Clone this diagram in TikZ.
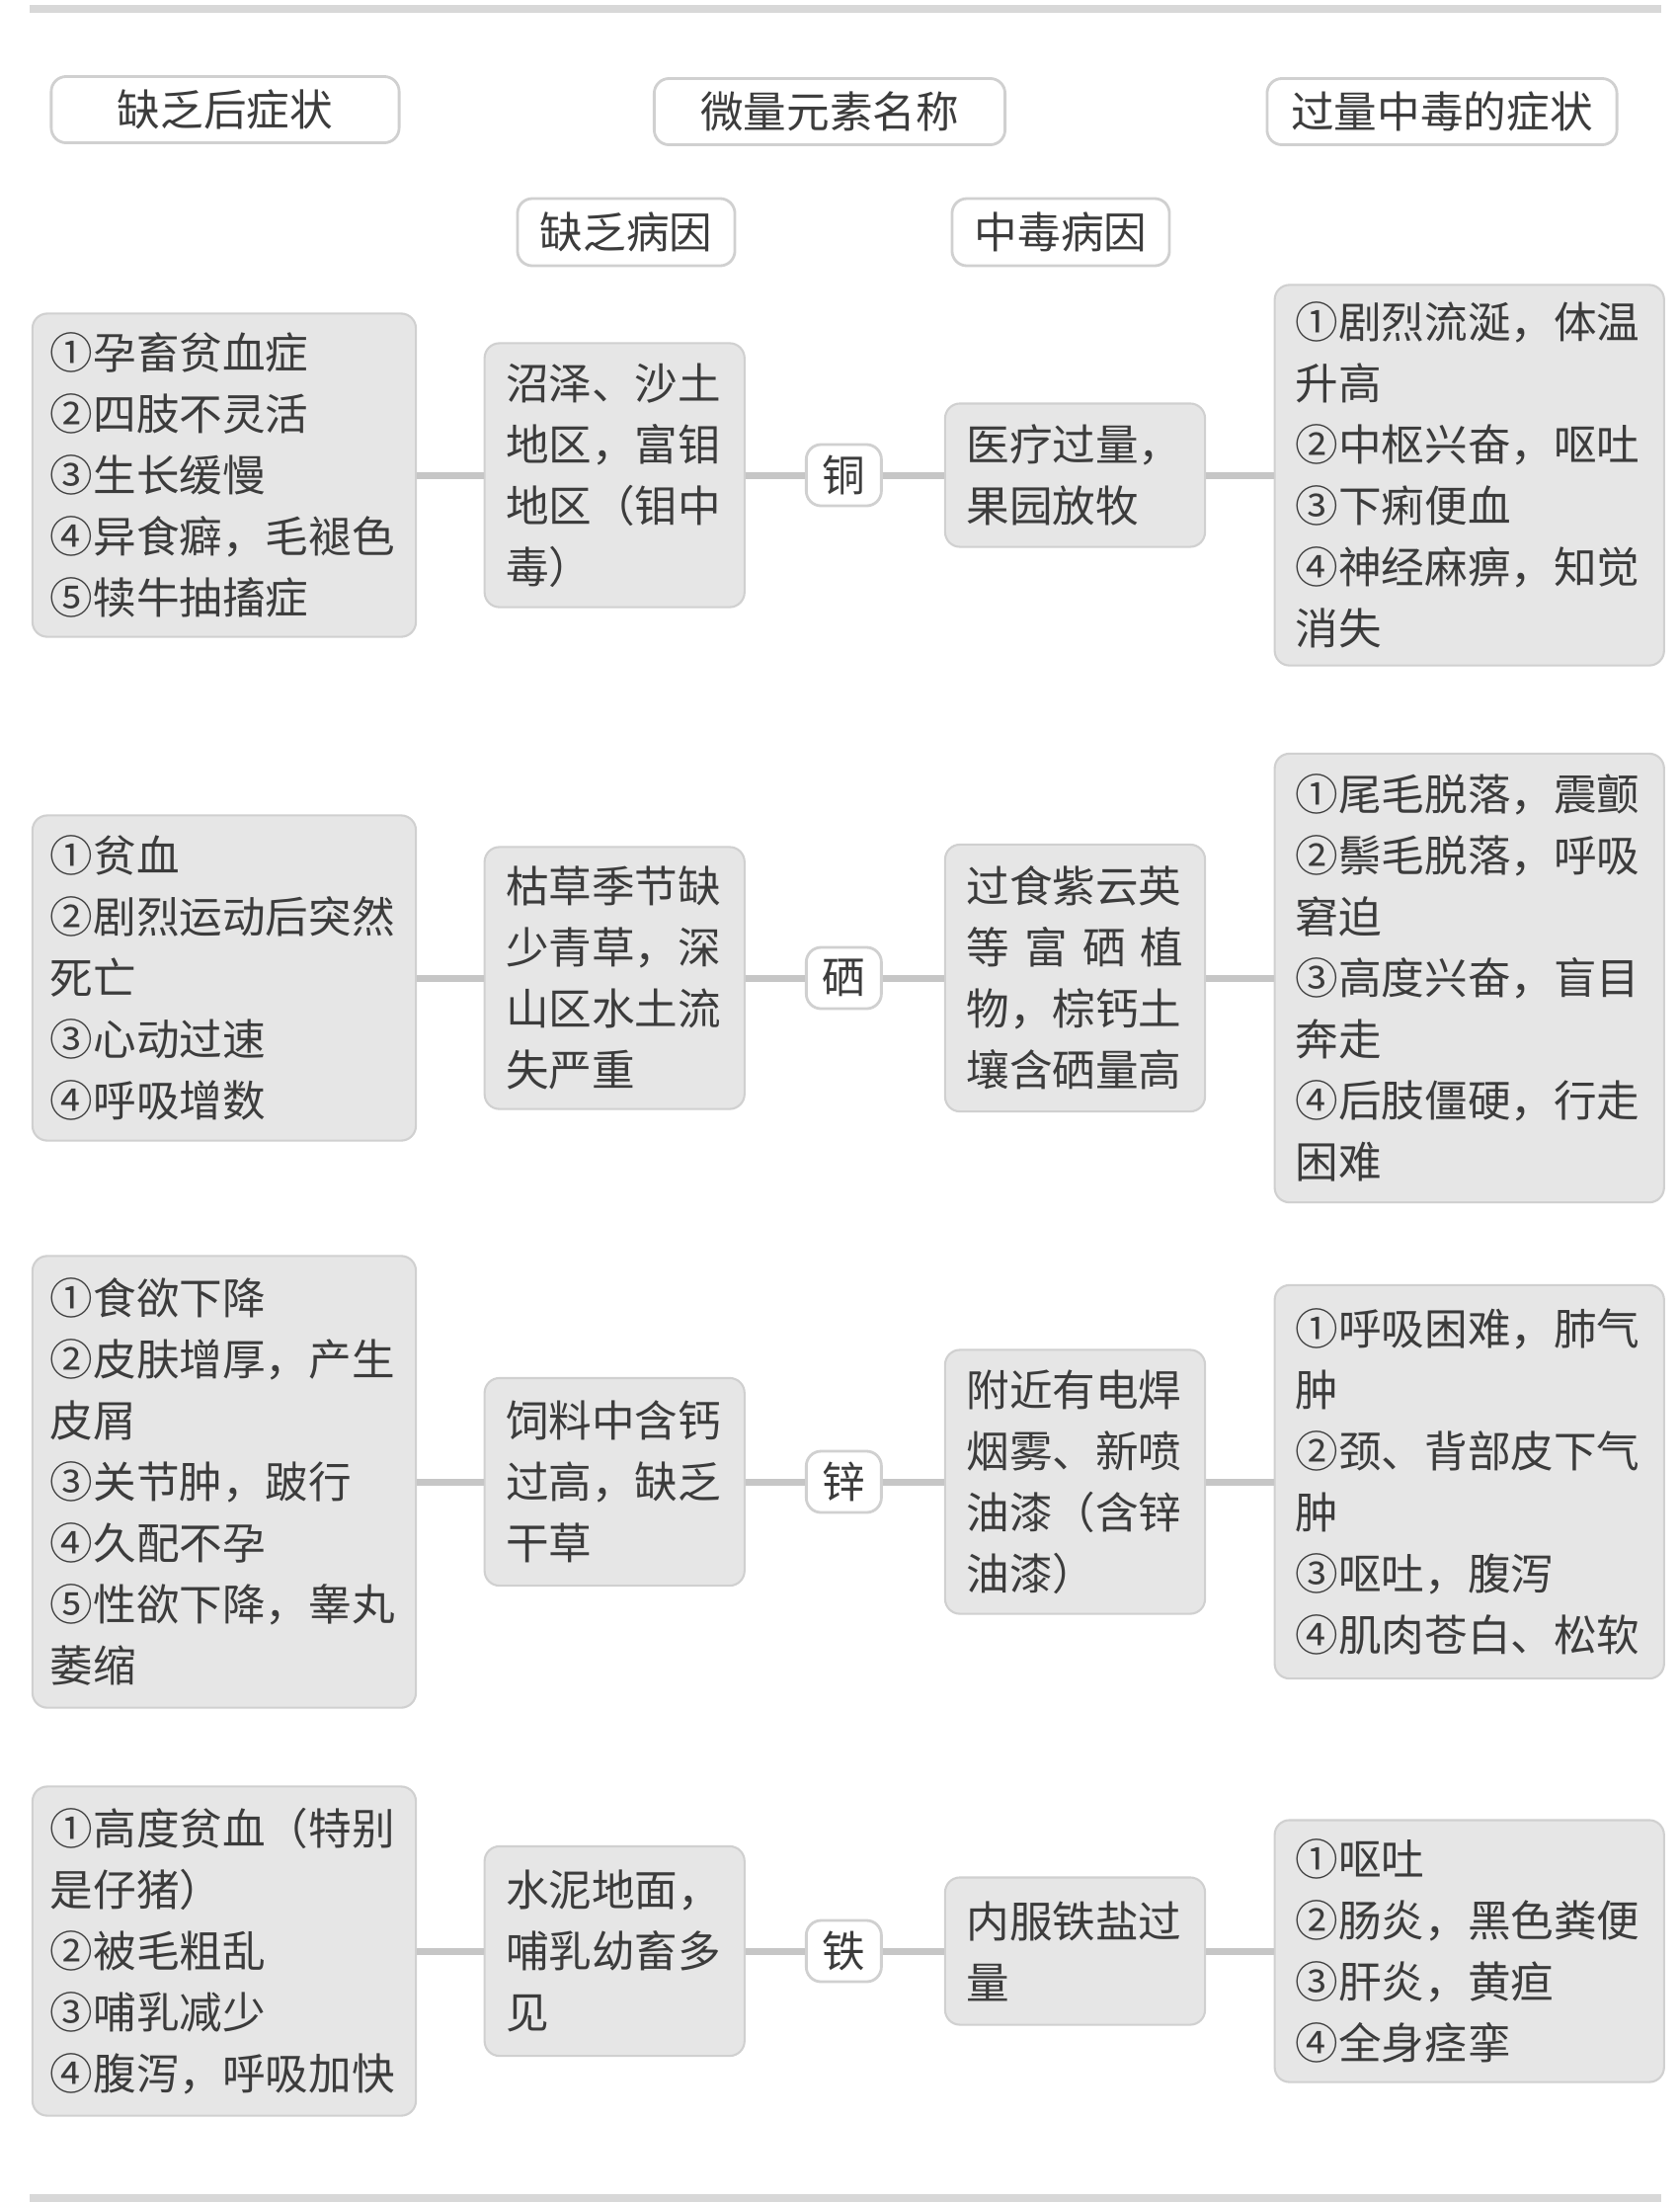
\documentclass[tikz,border=0pt]{standalone}
\usepackage{fontspec}
\setmainfont{Noto Sans CJK SC}
\usetikzlibrary{positioning}
\definecolor{boxgray}{HTML}{E6E6E6}
\definecolor{edgegray}{HTML}{D0D0D0}
\definecolor{inkgray}{HTML}{3C3C3C}
\definecolor{linkgray}{HTML}{C6C6C6}
\definecolor{bargray}{HTML}{D8D8D8}

\begin{document}
\begin{tikzpicture}[x=0.01cm,y=-0.01cm,on grid,
  every node/.style={font=\fontsize{12.4pt}{17.6pt}\selectfont,text=inkgray},
  head/.style={draw=edgegray,line width=0.8pt,fill=white,rounded corners=0.15cm,
    minimum height=0.67cm,inner sep=0pt},
  sym/.style={draw=edgegray,line width=0.6pt,fill=boxgray,rounded corners=0.15cm,
    text width=3.52cm,align=left,minimum width=3.88cm,inner sep=0pt},
  cause/.style={sym,text width=2.2cm,minimum width=2.63cm},
  elem/.style={head,minimum width=0.76cm,minimum height=0.62cm},
  link/.style={linkgray,line width=0.07cm}]
  \useasboundingbox (0,0) rectangle (1701,2229);
  \fill[bargray] (30,5) rectangle (1682,13);
  \fill[bargray] (30,2221) rectangle (1682,2229);

  % headings
  \node[head,minimum width=3.52cm] (hsym) at (228,111) {缺乏后症状};
  \node[head,minimum width=3.55cm] (hname) at (840,113) {微量元素名称};
  \node[head,minimum width=3.54cm] (htox) at (1460,113) {过量中毒的症状};
  \node[head,minimum width=2.2cm,minimum height=0.68cm] (hlack) at (634,235) {缺乏病因};
  \node[head,minimum width=2.2cm,minimum height=0.68cm] (hpois) at (1074,235) {中毒病因};

  % copper
  \node[sym,minimum height=3.27cm] (cu-lack) at (227,481)
    {①孕畜贫血症\\②四肢不灵活\\③生长缓慢\\④异食癖，毛褪色\\⑤犊牛抽搐症};
  \node[cause,minimum height=2.67cm] (cu-why) [right=3.95cm of cu-lack]
    {沼泽、沙土\\地区，富钼\\地区（钼中\\毒）};
  \node[elem] (cu) [right=2.32cm of cu-why] {铜};
  \node[cause,minimum height=1.45cm] (cu-how) [right=2.34cm of cu]
    {医疗过量，\\果园放牧};
  \node[sym,minimum width=3.94cm,minimum height=3.85cm] (cu-tox) [right=3.99cm of cu-how]
    {①剧烈流涎，体温\\升高\\②中枢兴奋，呕吐\\③下痢便血\\④神经麻痹，知觉\\消失};

  % selenium
  \node[sym,minimum height=3.29cm] (se-lack) at (227,990)
    {①贫血\\②剧烈运动后突然\\死亡\\③心动过速\\④呼吸增数};
  \node[cause,minimum height=2.65cm] (se-why) [right=3.95cm of se-lack]
    {枯草季节缺\\少青草，深\\山区水土流\\失严重};
  \node[elem] (se) [right=2.32cm of se-why] {硒};
  \node[cause,minimum height=2.70cm] (se-how) [right=2.34cm of se]
    {过食紫云英\\等\hfill 富\hfill 硒\hfill 植\\物，棕钙土\\壤含硒量高};
  \node[sym,minimum width=3.94cm,minimum height=4.54cm] (se-tox) [right=3.99cm of se-how]
    {①尾毛脱落，震颤\\②鬃毛脱落，呼吸\\窘迫\\③高度兴奋，盲目\\奔走\\④后肢僵硬，行走\\困难};

  % zinc
  \node[sym,minimum height=4.57cm] (zn-lack) at (227,1500)
    {①食欲下降\\②皮肤增厚，产生\\皮屑\\③关节肿，跛行\\④久配不孕\\⑤性欲下降，睾丸\\萎缩};
  \node[cause,minimum height=2.10cm] (zn-why) [right=3.95cm of zn-lack]
    {饲料中含钙\\过高，缺乏\\干草};
  \node[elem] (zn) [right=2.32cm of zn-why] {锌};
  \node[cause,minimum height=2.67cm] (zn-how) [right=2.34cm of zn]
    {附近有电焊\\烟雾、新喷\\油漆（含锌\\油漆）};
  \node[sym,minimum width=3.94cm,minimum height=3.98cm] (zn-tox) [right=3.99cm of zn-how]
    {①呼吸困难，肺气\\肿\\②颈、背部皮下气\\肿\\③呕吐，腹泻\\④肌肉苍白、松软};

  % iron
  \node[sym,minimum height=3.33cm] (fe-lack) at (227,1975)
    {①高度贫血（特别\\是仔猪）\\②被毛粗乱\\③哺乳减少\\④腹泻，呼吸加快};
  \node[cause,minimum height=2.12cm] (fe-why) [right=3.95cm of fe-lack]
    {水泥地面，\\哺乳幼畜多\\见};
  \node[elem] (fe) [right=2.32cm of fe-why] {铁};
  \node[cause,minimum height=1.49cm] (fe-how) [right=2.34cm of fe]
    {内服铁盐过\\量};
  \node[sym,minimum width=3.94cm,minimum height=2.65cm] (fe-tox) [right=3.99cm of fe-how]
    {①呕吐\\②肠炎，黑色粪便\\③肝炎，黄疸\\④全身痉挛};

  \path[link]
  (cu-lack) edge (cu-why) (cu-why) edge (cu) (cu) edge (cu-how) (cu-how) edge (cu-tox)
  (se-lack) edge (se-why) (se-why) edge (se) (se) edge (se-how) (se-how) edge (se-tox)
  (zn-lack) edge (zn-why) (zn-why) edge (zn) (zn) edge (zn-how) (zn-how) edge (zn-tox)
  (fe-lack) edge (fe-why) (fe-why) edge (fe) (fe) edge (fe-how) (fe-how) edge (fe-tox)
  ;
\end{tikzpicture}
\end{document}
